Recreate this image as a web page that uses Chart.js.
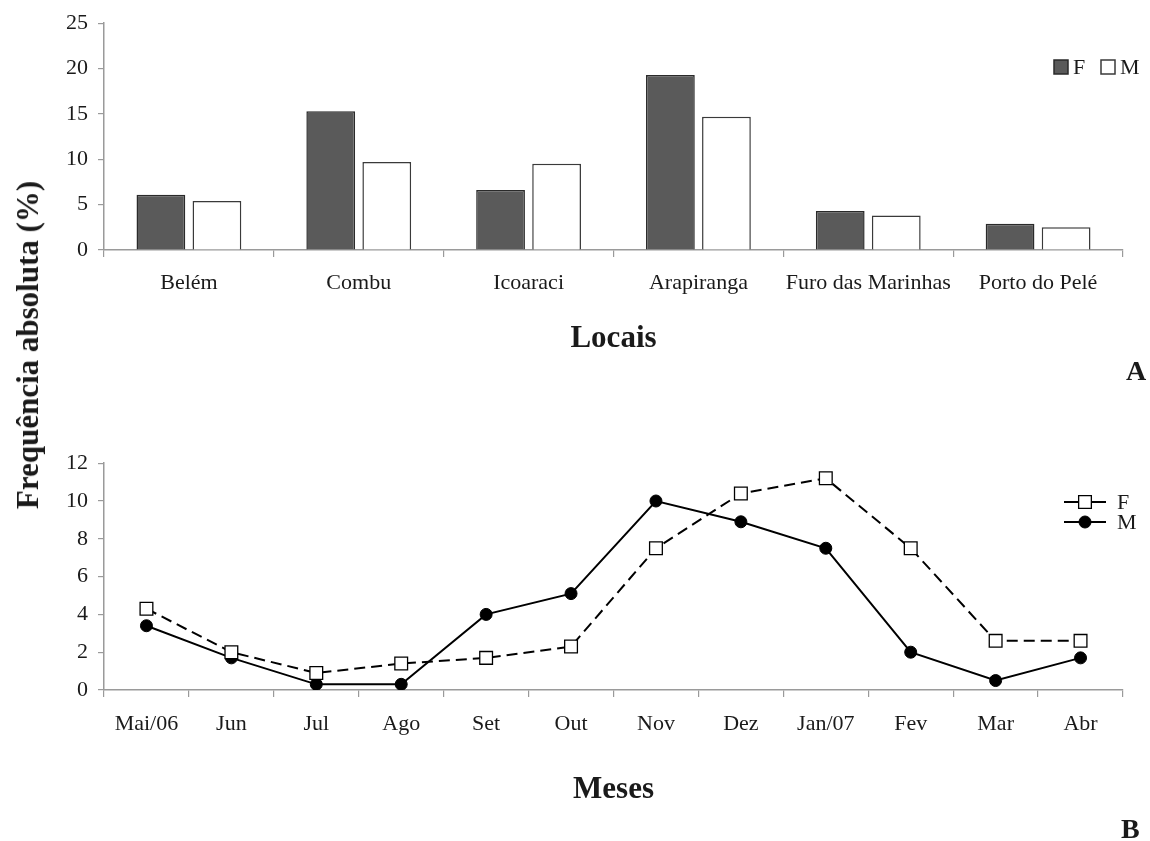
<!DOCTYPE html>
<html>
<head>
<meta charset="utf-8">
<script src="https://cdn.jsdelivr.net/npm/chart.js@4.4.1/dist/chart.umd.min.js"></script>
<style>
  html, body { margin: 0; padding: 0; background: #fff; }
  body { width: 1150px; height: 841px; position: relative; overflow: hidden;
         font-family: "Liberation Serif", "Times New Roman", serif; color: #1a1a1a; }
  #chartA { position: absolute; left: 0; top: 0; }
  #chartB { position: absolute; left: 0; top: 440px; }
  .ytitle { position: absolute; left: 28px; top: 345px; white-space: nowrap;
            transform: translate(-50%, -50%) rotate(-90deg);
            font-weight: bold; font-size: 31px; }
  .panel { position: absolute; font-weight: bold; font-size: 28px; }
</style>
</head>
<body>
<canvas id="chartA" width="1150" height="360"></canvas>
<canvas id="chartB" width="1150" height="380"></canvas>
<div class="ytitle">Frequência absoluta (%)</div>
<div class="panel" style="left:1126px; top:355px;">A</div>
<div class="panel" style="left:1121px; top:813px;">B</div>
<script>
// Panel A: frequency by site
const locais = ['Belém', 'Combu', 'Icoaraci', 'Arapiranga', 'Furo das Marinhas', 'Porto do Pelé'];
const locaisF = [6.1, 15.3, 6.6, 19.3, 4.3, 2.9];
const locaisM = [5.4, 9.7, 9.5, 14.7, 3.8, 2.5];
const ticksA = [0, 5, 10, 15, 20, 25];

// Panel B: frequency by month
const meses = ['Mai/06', 'Jun', 'Jul', 'Ago', 'Set', 'Out', 'Nov', 'Dez', 'Jan/07', 'Fev', 'Mar', 'Abr'];
const mesesF = [4.3, 2.0, 0.9, 1.4, 1.7, 2.3, 7.5, 10.4, 11.2, 7.5, 2.6, 2.6];
const mesesM = [3.4, 1.7, 0.3, 0.3, 4.0, 5.1, 10.0, 8.9, 7.5, 2.0, 0.5, 1.7];
const ticksB = [0, 2, 4, 6, 8, 10, 12];

const SERIF = "'Liberation Serif', 'Times New Roman', serif";
const INK = '#1a1a1a';
const AXIS = '#9a9a9a';
const tickFont = { family: SERIF, size: 22 };
const titleFont = { family: SERIF, size: 31, weight: 'bold' };

// Small legend drawn on the canvas from the datasets' own styles
const serieLegend = {
  id: 'serieLegend',
  afterDraw(chart, args, opts) {
    if (!opts || !opts.items) return;
    const ctx = chart.ctx;
    ctx.save();
    ctx.font = `${opts.fontSize}px ${SERIF}`;
    ctx.textBaseline = 'middle';
    opts.items.forEach((it, i) => {
      const ds = chart.data.datasets[i];
      if (opts.kind === 'box') {
        const s = opts.box;
        ctx.fillStyle = ds.backgroundColor;
        ctx.strokeStyle = ds.borderColor;
        ctx.lineWidth = 1.5;
        ctx.fillRect(it.x, it.y - s / 2, s, s);
        ctx.strokeRect(it.x, it.y - s / 2, s, s);
        ctx.fillStyle = INK;
        ctx.fillText(ds.label, it.x + s + 5, it.y + 1);
      } else {
        const w = opts.lineLen;
        const cx = it.x + w / 2;
        ctx.strokeStyle = ds.borderColor;
        ctx.lineWidth = ds.borderWidth;
        ctx.setLineDash([]);
        ctx.beginPath();
        ctx.moveTo(it.x, it.y);
        ctx.lineTo(it.x + w, it.y);
        ctx.stroke();
        ctx.fillStyle = ds.pointBackgroundColor;
        ctx.strokeStyle = ds.pointBorderColor;
        ctx.lineWidth = ds.pointBorderWidth;
        ctx.beginPath();
        if (ds.pointStyle === 'rect') {
          const h = Math.SQRT1_2 * ds.pointRadius;
          ctx.rect(cx - h, it.y - h, 2 * h, 2 * h);
        } else {
          ctx.arc(cx, it.y, ds.pointRadius, 0, Math.PI * 2);
        }
        ctx.fill();
        ctx.stroke();
        ctx.fillStyle = INK;
        ctx.fillText(ds.label, it.x + w + 11, it.y + 1);
      }
    });
    ctx.restore();
  }
};

function fixedTicks(values) {
  return function (scale) { scale.ticks = values.map(v => ({ value: v })); };
}

new Chart(document.getElementById('chartA'), {
  type: 'bar',
  data: {
    labels: locais,
    datasets: [
      { label: 'F', data: locaisF, backgroundColor: '#5a5a5a', borderColor: '#2a2a2a', borderWidth: 1.5,
        categoryPercentage: 0.66, barPercentage: 0.87 },
      { label: 'M', data: locaisM, backgroundColor: '#ffffff', borderColor: '#3a3a3a', borderWidth: 1.5,
        categoryPercentage: 0.66, barPercentage: 0.87 }
    ]
  },
  options: {
    responsive: false,
    animation: false,
    layout: { padding: { left: 0, right: 27, top: 20, bottom: 0 } },
    plugins: {
      legend: { display: false },
      tooltip: { enabled: false },
      serieLegend: { kind: 'box', box: 14, fontSize: 22, items: [{ x: 1054, y: 67 }, { x: 1101, y: 67 }] }
    },
    scales: {
      x: {
        grid: { drawOnChartArea: false, offset: true, color: AXIS, tickLength: 7, lineWidth: 1.2 },
        border: { color: AXIS, width: 1.5 },
        ticks: { font: tickFont, color: INK, padding: 13, maxRotation: 0, autoSkip: false },
        title: { display: true, text: 'Locais', font: titleFont, color: INK, padding: { top: 0, bottom: 2 } },
        afterFit(s) { s.height = 110; }
      },
      y: {
        min: 0, max: 25,
        afterBuildTicks: fixedTicks(ticksA),
        grid: { drawOnChartArea: false, color: AXIS, tickLength: 6, lineWidth: 1.2 },
        border: { color: AXIS, width: 1.5 },
        ticks: { font: tickFont, color: INK, padding: 10 },
        afterFit(s) { s.width = 104; }
      }
    }
  },
  plugins: [serieLegend]
});

new Chart(document.getElementById('chartB'), {
  type: 'line',
  data: {
    labels: meses,
    datasets: [
      { label: 'F', data: mesesF, borderColor: '#000', borderWidth: 2, borderDash: [11, 6],
        pointStyle: 'rect', pointRadius: 9, pointBackgroundColor: '#fff', pointBorderColor: '#000',
        pointBorderWidth: 1.3, tension: 0, fill: false },
      { label: 'M', data: mesesM, borderColor: '#000', borderWidth: 2,
        pointStyle: 'circle', pointRadius: 6, pointBackgroundColor: '#000', pointBorderColor: '#000',
        pointBorderWidth: 1, tension: 0, fill: false }
    ]
  },
  options: {
    responsive: false,
    animation: false,
    layout: { padding: { left: 0, right: 27, top: 23, bottom: 0 } },
    plugins: {
      legend: { display: false },
      tooltip: { enabled: false },
      serieLegend: { kind: 'line', lineLen: 42, fontSize: 22, items: [{ x: 1064, y: 62 }, { x: 1064, y: 82 }] }
    },
    scales: {
      x: {
        offset: true,
        grid: { drawOnChartArea: false, offset: true, color: AXIS, tickLength: 7, lineWidth: 1.2 },
        border: { color: AXIS, width: 1.5 },
        ticks: { font: tickFont, color: INK, padding: 14, maxRotation: 0, autoSkip: false },
        title: { display: true, text: 'Meses', font: titleFont, color: INK, padding: { top: 0, bottom: 11 } },
        afterFit(s) { s.height = 130; }
      },
      y: {
        min: 0, max: 12,
        afterBuildTicks: fixedTicks(ticksB),
        grid: { drawOnChartArea: false, color: AXIS, tickLength: 6, lineWidth: 1.2 },
        border: { color: AXIS, width: 1.5 },
        ticks: { font: tickFont, color: INK, padding: 10 },
        afterFit(s) { s.width = 104; }
      }
    }
  },
  plugins: [serieLegend]
});
</script>
</body>
</html>
